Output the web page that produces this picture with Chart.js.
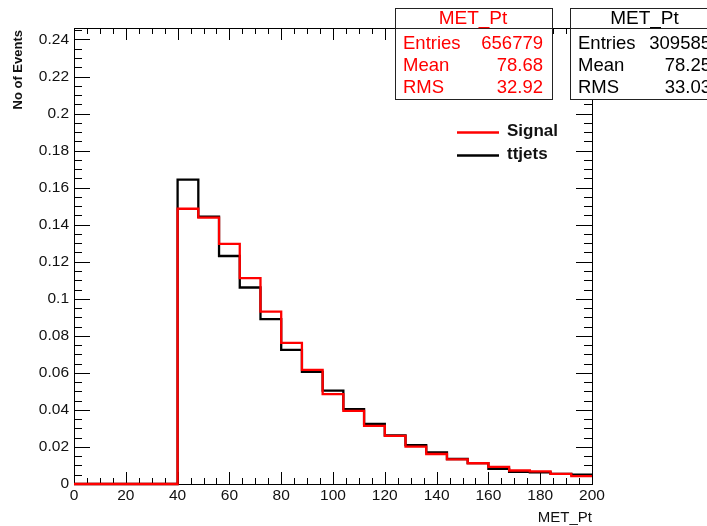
<!DOCTYPE html>
<html>
<head>
<meta charset="utf-8">
<script src="https://cdn.jsdelivr.net/npm/chart.js@4"></script>
<style>
  body { margin: 0; background: #fff; }
  canvas { display: block; }
</style>
</head>
<body>
<canvas id="chart" width="707" height="526"></canvas>
<script>
// MET_Pt histograms, 25 bins of width 8 from 0 to 200 (normalised)
const binEdges = [0, 8, 16, 24, 32, 40, 48, 56, 64, 72, 80, 88, 96, 104, 112, 120, 128, 136, 144, 152, 160, 168, 176, 184, 192, 200];
const signal = [0, 0, 0, 0, 0, 0.1486, 0.1438, 0.1296, 0.1112, 0.0931, 0.0762, 0.0616, 0.0485, 0.0395, 0.0314, 0.0260, 0.0202, 0.0162, 0.0133, 0.0112, 0.0093, 0.0073, 0.0068, 0.0055, 0.0042];
const ttjets = [0, 0, 0, 0, 0, 0.1643, 0.1443, 0.1231, 0.1061, 0.0890, 0.0724, 0.0605, 0.0504, 0.0404, 0.0324, 0.0262, 0.0210, 0.0171, 0.0135, 0.0113, 0.0082, 0.0066, 0.0063, 0.0055, 0.0051];

const xTickLabels = ["0", "20", "40", "60", "80", "100", "120", "140", "160", "180", "200"];
const yTickLabels = ["0", "0.02", "0.04", "0.06", "0.08", "0.1", "0.12", "0.14", "0.16", "0.18", "0.2", "0.22", "0.24"];

const statLabels = ["Entries", "Mean", "RMS"];
const signalStats = ["656779", "78.68", "32.92"];
const ttjetsStats = ["309585", "78.25", "33.03"];

const FONT = '"Liberation Sans", Arial, Helvetica, sans-serif';

function toSteps(values) {
  const pts = values.map((v, i) => ({ x: binEdges[i], y: v }));
  pts.push({ x: binEdges[binEdges.length - 1], y: values[values.length - 1] });
  return pts;
}

function drawFrame(chart) {
  const ctx = chart.ctx;
  const a = chart.chartArea;
  const x = chart.scales.x;
  const y = chart.scales.y;

  ctx.save();
  ctx.strokeStyle = "#000";
  ctx.lineWidth = 1;
  ctx.strokeRect(a.left + 0.5, a.top + 0.5, a.right - a.left, a.bottom - a.top);

  ctx.beginPath();
  // x ticks, major every 20, minor every 5, drawn inward on bottom and top
  for (let v = 0; v <= 200; v += 5) {
    const px = Math.round(x.getPixelForValue(v)) + 0.5;
    const len = v % 20 === 0 ? 12 : 6;
    ctx.moveTo(px, a.bottom);
    ctx.lineTo(px, a.bottom - len);
    ctx.moveTo(px, a.top);
    ctx.lineTo(px, a.top + len);
  }
  // y ticks, major every 0.02, minor every 0.005
  for (let i = 0; i * 0.005 <= y.max; i++) {
    const py = Math.round(y.getPixelForValue(i * 0.005)) + 0.5;
    const len = i % 4 === 0 ? 16 : 8;
    ctx.moveTo(a.left, py);
    ctx.lineTo(a.left + len, py);
    ctx.moveTo(a.right, py);
    ctx.lineTo(a.right - len, py);
  }
  ctx.stroke();

  ctx.fillStyle = "#111";
  ctx.font = "15.5px " + FONT;
  ctx.textAlign = "center";
  ctx.textBaseline = "top";
  xTickLabels.forEach((t, i) => {
    ctx.fillText(t, x.getPixelForValue(i * 20), a.bottom + 4);
  });

  ctx.textAlign = "right";
  ctx.textBaseline = "middle";
  yTickLabels.forEach((t, i) => {
    ctx.fillText(t, a.left - 5, y.getPixelForValue(i * 0.02));
  });

  // axis titles
  ctx.font = "15px " + FONT;
  ctx.textAlign = "right";
  ctx.fillText("MET_Pt", a.right, 518);

  ctx.save();
  ctx.translate(18, a.top + 2);
  ctx.rotate(-Math.PI / 2);
  ctx.font = "bold 13px " + FONT;
  ctx.textAlign = "right";
  ctx.textBaseline = "middle";
  ctx.fillText("No of Events", 0, 0);
  ctx.restore();

  ctx.restore();
}

function drawStatBox(ctx, left, color, values, valueRight) {
  const top = 8, w = 157, h = 91, titleH = 20;
  ctx.fillStyle = "#fff";
  ctx.fillRect(left, top, w, h);
  ctx.strokeStyle = "#222";
  ctx.lineWidth = 1;
  ctx.strokeRect(left + 0.5, top + 0.5, w, h);
  ctx.beginPath();
  ctx.moveTo(left, top + titleH + 0.5);
  ctx.lineTo(left + w, top + titleH + 0.5);
  ctx.stroke();

  ctx.fillStyle = color;
  ctx.textBaseline = "middle";
  ctx.font = "19px " + FONT;
  ctx.textAlign = "center";
  ctx.fillText("MET_Pt", left + (valueRight + 8) / 2, top + 11);

  ctx.font = "18.5px " + FONT;
  statLabels.forEach((lab, i) => {
    const ty = 44 + i * 22;
    ctx.textAlign = "left";
    ctx.fillText(lab, left + 8, ty);
    ctx.textAlign = "right";
    ctx.fillText(values[i], left + valueRight, ty);
  });
}

function drawLegend(ctx) {
  const items = [
    { label: "Signal", color: "#ff0000", y: 131 },
    { label: "ttjets", color: "#000000", y: 154 },
  ];
  ctx.font = "bold 17px " + FONT;
  ctx.textAlign = "left";
  ctx.textBaseline = "middle";
  items.forEach((it) => {
    ctx.strokeStyle = it.color;
    ctx.lineWidth = 2.5;
    ctx.beginPath();
    ctx.moveTo(457, it.y + 1.5);
    ctx.lineTo(499, it.y + 1.5);
    ctx.stroke();
    ctx.fillStyle = "#111";
    ctx.fillText(it.label, 507, it.y);
  });
}

const rootStyle = {
  id: "rootStyle",
  beforeDatasetsDraw(chart) {
    drawFrame(chart);
  },
  afterDraw(chart) {
    const ctx = chart.ctx;
    ctx.save();
    drawStatBox(ctx, 395, "#ff0000", signalStats, 148);
    drawStatBox(ctx, 570, "#000000", ttjetsStats, 141);
    drawLegend(ctx);
    ctx.restore();
  },
};

const ctx = document.getElementById("chart").getContext("2d");

new Chart(ctx, {
  type: "line",
  data: {
    datasets: [
      {
        label: "Signal",
        data: toSteps(signal),
        borderColor: "#ff0000",
        borderWidth: 2.3,
        stepped: "before",
        pointRadius: 0,
        fill: false,
        clip: 4,
      },
      {
        label: "ttjets",
        data: toSteps(ttjets),
        borderColor: "#000000",
        borderWidth: 2.3,
        stepped: "before",
        pointRadius: 0,
        fill: false,
        clip: 4,
      },
    ],
  },
  options: {
    responsive: false,
    animation: false,
    layout: { padding: { left: 74, right: 115, top: 28, bottom: 42 } },
    scales: {
      x: { type: "linear", min: 0, max: 200, display: false },
      y: { min: 0, max: 0.2462, display: false },
    },
    plugins: {
      legend: { display: false },
      tooltip: { enabled: false },
    },
  },
  plugins: [rootStyle],
});
</script>
</body>
</html>
